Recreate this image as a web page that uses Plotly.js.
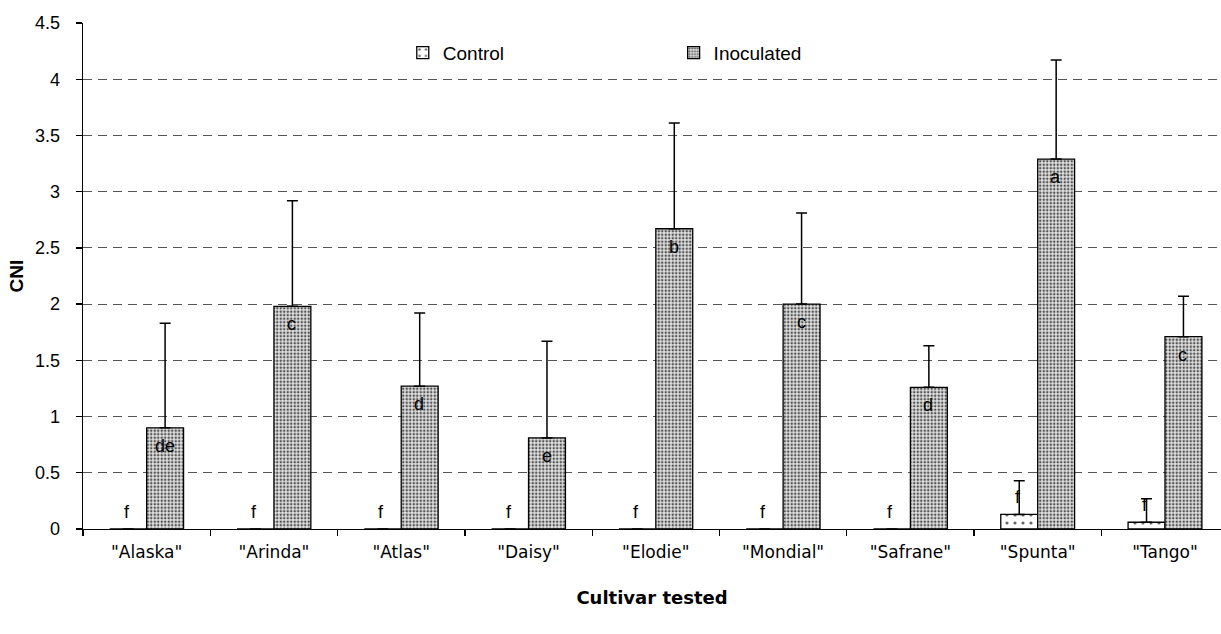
<!DOCTYPE html>
<html>
<head>
<meta charset="utf-8">
<script src="https://cdn.plot.ly/plotly-3.0.1.min.js"></script>
<style>html,body{margin:0;padding:0;background:#fff;}#chart{width:1221px;height:634px;}</style>
</head>
<body>
<div id="chart"></div>
<script>
const categories = ['"Alaska"', '"Arinda"', '"Atlas"', '"Daisy"', '"Elodie"', '"Mondial"', '"Safrane"', '"Spunta"', '"Tango"'];
const controlValues = [0, 0, 0, 0, 0, 0, 0, 0.13, 0.06];
const controlErrors = [0, 0, 0, 0, 0, 0, 0, 0.30, 0.21];
const inoculatedValues = [0.90, 1.98, 1.27, 0.81, 2.67, 2.00, 1.26, 3.29, 1.71];
const inoculatedErrors = [0.93, 0.94, 0.65, 0.86, 0.94, 0.81, 0.37, 0.88, 0.36];
const controlLetters = ['f', 'f', 'f', 'f', 'f', 'f', 'f', 'f', 'f'];
const inoculatedLetters = ['de', 'c', 'd', 'e', 'b', 'c', 'd', 'a', 'c'];
const yTicks = [0, 0.5, 1, 1.5, 2, 2.5, 3, 3.5, 4, 4.5];

const FONT = '"Liberation Sans", Arial, sans-serif';
const WIDE = '"DejaVu Sans", "Liberation Sans", sans-serif';
const zeros = categories.map(() => 0);

const control = {
  type: 'bar', name: 'Control', x: categories, y: controlValues,
  legend: 'legend',
  marker: {
    color: '#ffffff',
    line: {color: '#000', width: 1.3},
    pattern: {shape: '.', bgcolor: '#ffffff', fgcolor: '#666', size: 8, solidity: 0.12}
  },
  error_y: {type: 'data', symmetric: false, array: controlErrors, arrayminus: zeros,
            color: '#000', thickness: 1.5, width: 5.5}
};
const inoculated = {
  type: 'bar', name: 'Inoculated', x: categories, y: inoculatedValues,
  legend: 'legend2',
  marker: {
    color: '#e4e4e4',
    line: {color: '#000', width: 1.3},
    pattern: {shape: '.', bgcolor: '#e4e4e4', fgcolor: '#555', size: 3.5, solidity: 0.42}
  },
  error_y: {type: 'data', symmetric: false, array: inoculatedErrors, arrayminus: zeros,
            color: '#000', thickness: 1.5, width: 5.5}
};

const annotations = [];
categories.forEach((c, i) => {
  annotations.push({x: c, y: controlValues[i], text: controlLetters[i], showarrow: false,
    xshift: -20, yshift: 17, yanchor: 'middle', font: {family: FONT, size: 18, color: '#000'}});
  annotations.push({x: c, y: inoculatedValues[i], text: inoculatedLetters[i], showarrow: false,
    xshift: 18, yshift: -18, yanchor: 'middle', font: {family: FONT, size: 18, color: '#000'}});
});

const layout = {
  width: 1221, height: 634,
  margin: {l: 83, r: 0, t: 23, b: 105, pad: 0},
  paper_bgcolor: '#fff', plot_bgcolor: '#fff',
  font: {family: FONT, size: 18, color: '#000'},
  barmode: 'group', bargap: 0.42, bargroupgap: 0,
  xaxis: {
    type: 'category', range: [-0.5, 8.44],
    showline: true, linecolor: '#000', linewidth: 1.3,
    ticks: 'outside', tickson: 'boundaries', ticklen: 6, tickcolor: '#000', tickwidth: 1.3,
    showgrid: false, zeroline: false,
    tickfont: {family: WIDE, size: 17, color: '#000'},
    ticklabelstandoff: 7,
    title: {text: 'Cultivar tested', font: {family: WIDE, size: 18, color: '#000', weight: 'bold'}, standoff: 30}
  },
  yaxis: {
    range: [0, 4.5], tickvals: yTicks, ticktext: yTicks.map(String),
    showline: true, linecolor: '#000', linewidth: 1.3,
    ticks: 'outside', ticklen: 6, tickcolor: '#000', tickwidth: 1.3,
    showgrid: true, gridcolor: '#555', gridwidth: 1, griddash: '9px,6px',
    zeroline: false,
    tickfont: {family: FONT, size: 18, color: '#000'},
    ticklabelstandoff: 12,
    title: {text: 'CNI', font: {family: FONT, size: 19, color: '#000', weight: 'bold'}, standoff: 6}
  },
  showlegend: true,
  legend: {x: 0.281, y: 0.941, xanchor: 'left', yanchor: 'middle', bgcolor: 'rgba(0,0,0,0)',
           font: {family: FONT, size: 19, color: '#000'}, itemwidth: 30},
  legend2: {x: 0.519, y: 0.941, xanchor: 'left', yanchor: 'middle', bgcolor: 'rgba(0,0,0,0)',
           font: {family: FONT, size: 19, color: '#000'}, itemwidth: 30},
  annotations: annotations
};

Plotly.newPlot('chart', [control, inoculated], layout, {displayModeBar: false, staticPlot: true});
</script>
</body>
</html>
